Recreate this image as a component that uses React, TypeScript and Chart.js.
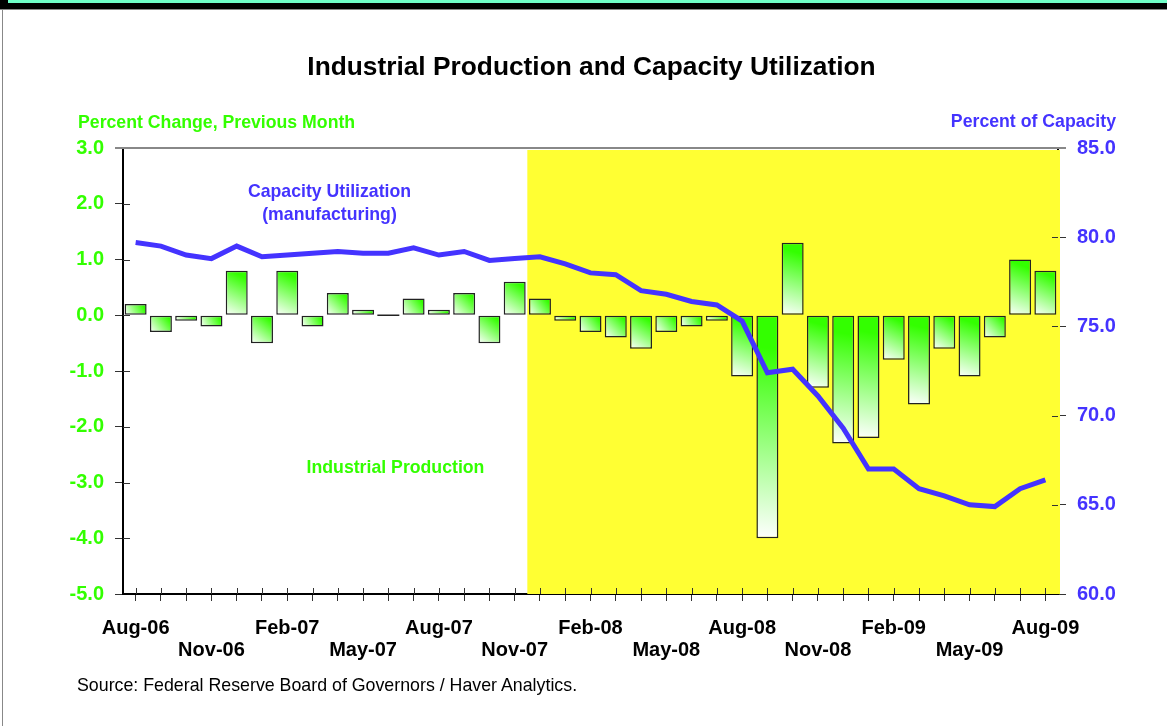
import React, { useEffect, useRef } from "react";
import { Chart, registerables } from "chart.js";

Chart.register(...registerables);

const months = [
  "Aug-06", "Sep-06", "Oct-06", "Nov-06", "Dec-06", "Jan-07", "Feb-07", "Mar-07", "Apr-07", "May-07",
  "Jun-07", "Jul-07", "Aug-07", "Sep-07", "Oct-07", "Nov-07", "Dec-07", "Jan-08", "Feb-08", "Mar-08",
  "Apr-08", "May-08", "Jun-08", "Jul-08", "Aug-08", "Sep-08", "Oct-08", "Nov-08", "Dec-08", "Jan-09",
  "Feb-09", "Mar-09", "Apr-09", "May-09", "Jun-09", "Jul-09", "Aug-09",
];

const industrialProduction = [
  0.2, -0.3, -0.1, -0.2, 0.8, -0.5, 0.8, -0.2, 0.4, 0.1,
  0.0, 0.3, 0.1, 0.4, -0.5, 0.6, 0.3, -0.1, -0.3, -0.4,
  -0.6, -0.3, -0.2, -0.1, -1.1, -4.0, 1.3, -1.3, -2.3, -2.2,
  -0.8, -1.6, -0.6, -1.1, -0.4, 1.0, 0.8,
];

const capacityUtilization = [
  79.7, 79.5, 79.0, 78.8, 79.5, 78.9, 79.0, 79.1, 79.2, 79.1,
  79.1, 79.4, 79.0, 79.2, 78.7, 78.8, 78.9, 78.5, 78.0, 77.9,
  77.0, 76.8, 76.4, 76.2, 75.3, 72.4, 72.6, 71.1, 69.3, 67.0,
  67.0, 65.9, 65.5, 65.0, 64.9, 65.9, 66.4,
];

const recessionStart = "Dec-07";
const leftAxisRange = [-5, 3];
const rightAxisRange = [60, 85];

const GREEN = "#33ff00";
const BLUE = "#4433ff";
const YELLOW = "#ffff33";
const FONT = "'Liberation Sans', Arial, Helvetica, sans-serif";
const BAR_PCT = 0.87;

const decorPlugin = {
  id: "decor",
  beforeDatasetsDraw(chart: any) {
    const { ctx, chartArea } = chart;
    const x = chart.scales.x;
    const idx = months.indexOf(recessionStart);
    const catW = x.width / months.length;
    const left = x.getPixelForValue(idx) - catW / 2;
    ctx.save();
    ctx.fillStyle = YELLOW;
    ctx.fillRect(left, chartArea.top + 2, chartArea.right - left + 2, chartArea.bottom - chartArea.top - 2);
    ctx.restore();
  },
  afterDatasetsDraw(chart: any) {
    // draw a hairline for zero-valued bars so they remain visible
    const { ctx } = chart;
    const xs = chart.scales.x;
    const ys = chart.scales.y;
    const half = ((xs.width / months.length) * BAR_PCT) / 2;
    ctx.save();
    ctx.strokeStyle = "#222";
    ctx.lineWidth = 1.5;
    industrialProduction.forEach((v, i) => {
      if (v !== 0) return;
      const cx = xs.getPixelForValue(i);
      const py = ys.getPixelForValue(0);
      ctx.beginPath();
      ctx.moveTo(cx - half, py);
      ctx.lineTo(cx + half, py);
      ctx.stroke();
    });
    ctx.restore();
  },
  afterDraw(chart: any) {
    const { ctx, chartArea } = chart;
    const x = chart.scales.x;
    const y = chart.scales.y;
    const y1 = chart.scales.y1;
    ctx.save();
    ctx.strokeStyle = "#888";
    ctx.lineWidth = 2;
    ctx.beginPath();
    ctx.moveTo(chartArea.left - 8, chartArea.top);
    ctx.lineTo(chartArea.right + 8, chartArea.top);
    ctx.stroke();
    ctx.strokeStyle = "#333";
    ctx.lineWidth = 1;
    ctx.beginPath();
    y.ticks.forEach((_t: any, i: number) => {
      const py = Math.round(y.getPixelForTick(i)) + 0.5;
      if (i === 0 || i === y.ticks.length - 1) return;
      ctx.moveTo(chartArea.left, py);
      ctx.lineTo(chartArea.left + 7, py);
    });
    y1.ticks.forEach((_t: any, i: number) => {
      const py = Math.round(y1.getPixelForTick(i)) + 0.5;
      if (i === 0 || i === y1.ticks.length - 1) return;
      ctx.moveTo(chartArea.right - 6, py);
      ctx.lineTo(chartArea.right, py);
    });
    x.ticks.forEach((_t: any, i: number) => {
      const px = Math.round(x.getPixelForTick(i)) + 0.5;
      ctx.moveTo(px, chartArea.bottom - 6);
      ctx.lineTo(px, chartArea.bottom);
    });
    ctx.stroke();
    ctx.restore();
  },
};

export default function App() {
  const ref = useRef<HTMLCanvasElement | null>(null);

  useEffect(() => {
    if (!ref.current) return;
    const chart = new Chart(ref.current, {
      data: {
        labels: months,
        datasets: [
          {
            type: "line",
            label: "Capacity Utilization (manufacturing)",
            data: capacityUtilization,
            yAxisID: "y1",
            borderColor: BLUE,
            borderWidth: 5,
            pointRadius: 0,
            tension: 0,
            order: 0,
          } as any,
          {
            type: "bar",
            label: "Industrial Production",
            data: industrialProduction,
            yAxisID: "y",
            order: 1,
            barPercentage: BAR_PCT,
            categoryPercentage: 1,
            borderColor: "#222",
            borderWidth: 1.5,
            borderSkipped: false,
            backgroundColor: (c: any) => {
              const ch = c.chart;
              if (!ch.chartArea || c.type !== "data") return GREEN;
              const xs = ch.scales.x;
              const ys = ch.scales.y;
              const v = c.raw as number;
              const cx = xs.getPixelForValue(c.dataIndex);
              const half = ((xs.width / months.length) * BAR_PCT) / 2;
              const top = ys.getPixelForValue(Math.max(v, 0));
              const bot = ys.getPixelForValue(Math.min(v, 0));
              const g = ch.ctx.createLinearGradient(cx + half, top, cx - half, bot + 0.01);
              g.addColorStop(0, GREEN);
              g.addColorStop(0.15, GREEN);
              g.addColorStop(1, "#ffffff");
              return g;
            },
          } as any,
        ],
      },
      options: {
        responsive: false,
        animation: false,
        maintainAspectRatio: false,
        layout: { padding: { top: 148, bottom: 62, left: 0, right: 0 } },
        plugins: { legend: { display: false }, tooltip: { enabled: false }, title: { display: false } },
        scales: {
          x: {
            type: "category",
            offset: true,
            afterFit: (s: any) => { s.height = 70; },
            grid: { display: true, drawOnChartArea: false, drawTicks: true, tickLength: 7, color: "#333", lineWidth: 1, offset: false },
            border: { display: true, color: "#000", width: 2 },
            ticks: {
              autoSkip: false,
              maxRotation: 0,
              minRotation: 0,
              padding: 16,
              color: "#000",
              font: { family: FONT, size: 20, weight: "bold", lineHeight: 22 / 20 },
              callback: (_v: any, i: number) => (i % 6 === 0 ? months[i] : i % 3 === 0 ? ["", months[i]] : ""),
            },
          },
          y: {
            position: "left",
            min: leftAxisRange[0],
            max: leftAxisRange[1],
            afterFit: (s: any) => { s.width = 123; },
            grid: { display: true, drawOnChartArea: false, drawTicks: true, tickLength: 8, color: "#333" },
            border: { display: true, color: "#000", width: 2 },
            ticks: {
              stepSize: 1,
              padding: 11,
              color: GREEN,
              font: { family: FONT, size: 20, weight: "bold" },
              callback: (v: any) => Number(v).toFixed(1),
            },
          },
          y1: {
            position: "right",
            min: rightAxisRange[0],
            max: rightAxisRange[1],
            afterFit: (s: any) => { s.width = 109; },
            grid: { display: true, drawOnChartArea: false, drawTicks: true, tickLength: 8, color: "#333" },
            border: { display: true, color: "#000", width: 2 },
            ticks: {
              stepSize: 5,
              padding: 11,
              color: BLUE,
              font: { family: FONT, size: 20, weight: "bold" },
              callback: (v: any) => Number(v).toFixed(1),
            },
          },
        },
      } as any,
      plugins: [decorPlugin],
    });
    return () => chart.destroy();
  }, []);

  const txt = (extra: React.CSSProperties): React.CSSProperties => ({
    position: "absolute",
    fontFamily: FONT,
    fontWeight: "bold",
    whiteSpace: "nowrap",
    lineHeight: 1,
    ...extra,
  });

  return (
    <div style={{ position: "absolute", left: 0, top: 0, width: 1167, height: 726, background: "#fff", overflow: "hidden" }}>
      <div style={{ position: "absolute", left: 0, top: 0, width: 1167, height: 9, background: "#000" }} />
      <div style={{ position: "absolute", left: 8, top: 0, width: 1159, height: 3, background: "#70ffc8" }} />
      <div style={{ position: "absolute", left: 0, top: 9, width: 1167, height: 1, background: "#888" }} />
      <div style={{ position: "absolute", left: 2, top: 9, width: 1, height: 717, background: "#888" }} />
      <canvas ref={ref} width={1167} height={726} style={{ position: "absolute", left: 0, top: 0, display: "block" }} />
      <div style={txt({ left: 591.5, top: 66, transform: "translate(-50%,-50%)", fontSize: 26.3, color: "#000" })}>
        Industrial Production and Capacity Utilization
      </div>
      <div style={txt({ left: 78, top: 123, transform: "translateY(-50%)", fontSize: 17.7, color: GREEN })}>
        Percent Change, Previous Month
      </div>
      <div style={txt({ right: 1167 - 1116, top: 122, transform: "translateY(-50%)", fontSize: 17.7, color: BLUE })}>
        Percent of Capacity
      </div>
      <div style={txt({ left: 329.5, top: 203, transform: "translate(-50%,-50%)", fontSize: 17.7, color: BLUE, textAlign: "center", lineHeight: "23px" })}>
        Capacity Utilization
        <br />
        (manufacturing)
      </div>
      <div style={txt({ left: 395.5, top: 468, transform: "translate(-50%,-50%)", fontSize: 17.7, color: GREEN })}>
        Industrial Production
      </div>
      <div style={txt({ left: 77, top: 686, transform: "translateY(-50%)", fontSize: 17.8, color: "#000", fontWeight: "normal" })}>
        Source: Federal Reserve Board of Governors / Haver Analytics.
      </div>
    </div>
  );
}
